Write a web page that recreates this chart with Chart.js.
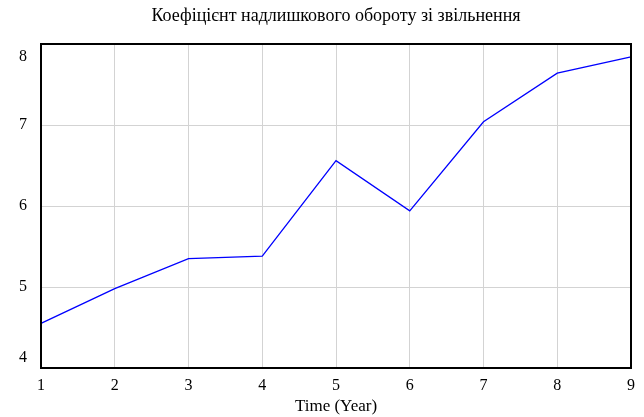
<!DOCTYPE html>
<html>
<head>
<meta charset="utf-8">
<script src="https://cdn.jsdelivr.net/npm/chart.js@4"></script>
<style>
    html, body { margin: 0; padding: 0; background: #fff; }
    #wrap { width: 644px; height: 417px; position: relative; }
</style>
</head>
<body>
<div id="wrap"><canvas id="turnoverChart"></canvas></div>
<script>
const chartTitle = 'Коефіцієнт надлишкового обороту зі звільнення';
const xTitle = 'Time (Year)';
const years = ['1', '2', '3', '4', '5', '6', '7', '8', '9'];
const turnoverRatio = [4.55, 4.98, 5.35, 5.38, 6.56, 5.94, 7.04, 7.64, 7.84];
const yTicks = [4, 5, 6, 7, 8];

const serif = '"Liberation Serif", "Times New Roman", serif';

/*Frame, title and y labels drawn on top of the chart area*/
const framePlugin = {
    id: 'framePlugin',
    afterDraw: function (chart) {
        const ctx = chart.ctx;
        const area = chart.chartArea;
        const yScale = chart.scales.y;

        ctx.save();
        ctx.strokeStyle = '#000';
        ctx.lineWidth = 2;
        ctx.strokeRect(area.left, area.top, area.right - area.left, area.bottom - area.top);

        ctx.fillStyle = '#000';
        ctx.font = '18px ' + serif;
        ctx.textAlign = 'center';
        ctx.textBaseline = 'middle';
        ctx.fillText(chartTitle, (area.left + area.right) / 2, 16);

        ctx.font = '16px ' + serif;
        ctx.textAlign = 'right';
        yTicks.forEach(function (v) {
            let y = yScale.getPixelForValue(v);
            y = Math.max(area.top + 13, Math.min(area.bottom - 10, y));
            ctx.fillText(String(v), area.left - 14, y);
        });
        ctx.restore();
    }
};

const ctx = document.getElementById('turnoverChart').getContext('2d');
new Chart(ctx, {
    type: 'line',
    data: {
        labels: years,
        datasets: [{
            data: turnoverRatio,
            borderColor: '#0000ff',
            borderWidth: 1.3,
            pointRadius: 0,
            tension: 0,
            fill: false
        }]
    },
    options: {
        responsive: true,
        maintainAspectRatio: false,
        animation: false,
        layout: { padding: { top: 44, right: 13, left: 0, bottom: 0 } },
        plugins: {
            legend: { display: false },
            tooltip: { enabled: false }
        },
        scales: {
            x: {
                offset: false,
                grid: { color: '#d3d3d3', lineWidth: 1, drawTicks: false },
                border: { display: false },
                ticks: {
                    color: '#000',
                    font: { family: serif, size: 16 },
                    padding: 8,
                    maxRotation: 0
                },
                title: {
                    display: true,
                    text: xTitle,
                    color: '#000',
                    font: { family: serif, size: 17 },
                    padding: { top: 0, bottom: 0 }
                },
                afterFit: function (scale) { scale.height = 49; }
            },
            y: {
                min: 4,
                max: 8,
                grid: { color: '#d3d3d3', lineWidth: 1, drawTicks: false },
                border: { display: false },
                ticks: { stepSize: 1, display: false },
                afterFit: function (scale) { scale.width = 41; }
            }
        }
    },
    plugins: [framePlugin]
});
</script>
</body>
</html>
